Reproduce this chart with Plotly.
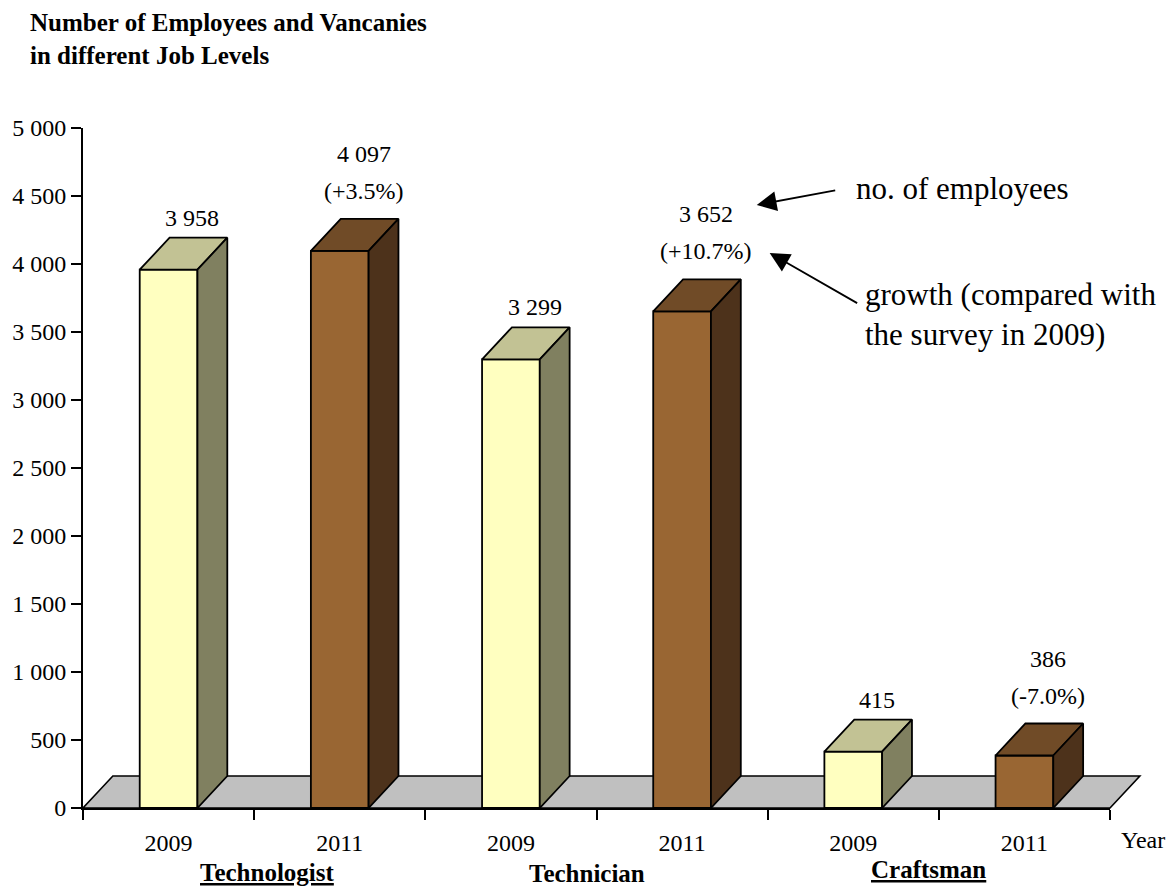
import plotly.graph_objects as go

# ---- data -------------------------------------------------------------
job_levels = ["Technologist", "Technician", "Craftsman"]
survey_years = ["2009", "2011"]
employees_2009 = [3958, 3299, 415]
employees_2011 = [4097, 3652, 386]
growth_pct = [3.5, 10.7, -7.0]
y_tick_values = [0, 500, 1000, 1500, 2000, 2500, 3000, 3500, 4000, 4500, 5000]

# ---- page geometry ----------------------------------------------------
W, H = 1174, 889
MARGIN = dict(l=78, r=64, t=128, b=81)
PLOT_W = W - MARGIN["l"] - MARGIN["r"]
PLOT_H = H - MARGIN["t"] - MARGIN["b"]
X_MAX = len(job_levels) * len(survey_years)
Y_MAX = y_tick_values[-1]
UX = X_MAX / PLOT_W          # data units per pixel (x)
UY = Y_MAX / PLOT_H          # data units per pixel (y)
DEPTH_X = 30 * UX            # oblique depth of the 3-D boxes
DEPTH_Y = 32 * UY
BAR_W = 58 * UX

SERIF = "Liberation Serif"
FACE = {
    "2009": dict(front="#FFFFC0", top="#C2C294", side="#808060"),
    "2011": dict(front="#996633", top="#704B27", side="#4D321B"),
}
EDGE = dict(color="black", width=1.8)


def fmt_thousands(v):
    return f"{v:,}".replace(",", " ")


def polygon(xs, ys, color):
    return go.Scatter(
        x=xs + xs[:1], y=ys + ys[:1], mode="lines", fill="toself",
        fillcolor=color, line=EDGE, hoverinfo="skip", showlegend=False,
    )


fig = go.Figure()
annotations = []

series = {"2009": employees_2009, "2011": employees_2011}
for i, level in enumerate(job_levels):
    for j, year in enumerate(survey_years):
        v = series[year][i]
        xc = i * len(survey_years) + j + 0.5
        x0, x1 = xc - BAR_W / 2, xc + BAR_W / 2
        c = FACE[year]
        # front face
        fig.add_trace(polygon([x0, x1, x1, x0], [0, 0, v, v], c["front"]))
        # top face
        fig.add_trace(polygon([x0, x1, x1 + DEPTH_X, x0 + DEPTH_X],
                              [v, v, v + DEPTH_Y, v + DEPTH_Y], c["top"]))
        # side face
        fig.add_trace(polygon([x1, x1 + DEPTH_X, x1 + DEPTH_X, x1],
                              [0, DEPTH_Y, v + DEPTH_Y, v], c["side"]))

        lx = xc + 24 * UX
        ly = v + DEPTH_Y
        if year == "2009":
            annotations.append(dict(x=lx, y=ly, xref="x", yref="y",
                                    text=fmt_thousands(v), showarrow=False,
                                    yanchor="middle", yshift=20,
                                    font=dict(family=SERIF, size=24, color="black")))
        else:
            annotations.append(dict(x=lx, y=ly, xref="x", yref="y",
                                    text=fmt_thousands(v), showarrow=False,
                                    yanchor="middle", yshift=65,
                                    font=dict(family=SERIF, size=24, color="black")))
            annotations.append(dict(x=lx, y=ly, xref="x", yref="y",
                                    text=f"({growth_pct[i]:+.1f}%)", showarrow=False,
                                    yanchor="middle", yshift=28,
                                    font=dict(family=SERIF, size=24, color="black")))

# grey floor under the boxes (paper coords so it may overhang the axis end)
fx = DEPTH_X / X_MAX
fy = DEPTH_Y / Y_MAX
floor_path = f"M 0 0 L 1 0 L {1 + fx} {fy} L {fx} {fy} Z"
shapes = [dict(type="path", path=floor_path, xref="paper", yref="paper",
               fillcolor="#C0C0C0", line=dict(color="black", width=1.6),
               layer="below")]


def px_to_paper_x(px):
    return (px - MARGIN["l"]) / PLOT_W


def px_to_paper_y(py):
    return (H - MARGIN["b"] - py) / PLOT_H


# title
annotations.append(dict(
    x=px_to_paper_x(23), y=px_to_paper_y(7), xref="paper", yref="paper",
    xanchor="left", yanchor="top", align="left", showarrow=False,
    text="<b>Number of Employees and Vancanies<br>in different Job Levels</b>",
    font=dict(family=SERIF, size=25, color="black")))

# job level captions
level_style = {"Technologist": (263, 888, True),
               "Technician": (584, 889, False),
               "Craftsman": (928, 885, True)}
for level in job_levels:
    cx, cy, underline = level_style[level]
    txt = f"<b>{level}</b>"
    if underline:
        txt = f"<u>{txt}</u>"
    annotations.append(dict(x=px_to_paper_x(cx), y=px_to_paper_y(cy),
                            xref="paper", yref="paper", showarrow=False,
                            xanchor="center", yanchor="bottom", text=txt,
                            font=dict(family=SERIF, size=25, color="black")))

# axis caption
annotations.append(dict(x=px_to_paper_x(1143), y=px_to_paper_y(840),
                        xref="paper", yref="paper", showarrow=False,
                        xanchor="center", yanchor="middle", text="Year",
                        font=dict(family=SERIF, size=24, color="black")))

# explanatory notes with arrows
annotations.append(dict(x=px_to_paper_x(853), y=px_to_paper_y(188),
                        xref="paper", yref="paper", showarrow=False,
                        xanchor="left", yanchor="middle", align="left",
                        text="no. of employees",
                        font=dict(family=SERIF, size=31, color="black")))
annotations.append(dict(x=px_to_paper_x(862), y=px_to_paper_y(314),
                        xref="paper", yref="paper", showarrow=False,
                        xanchor="left", yanchor="middle", align="left",
                        text="growth (compared with<br>the survey in 2009)",
                        font=dict(family=SERIF, size=31, color="black")))
for (hx, hy), (tx, ty) in [((755, 205), (835, 190)), ((768, 253), (857, 304))]:
    annotations.append(dict(x=px_to_paper_x(hx), y=px_to_paper_y(hy),
                            xref="paper", yref="paper", text="",
                            showarrow=True, arrowhead=2, arrowsize=2.2,
                            arrowwidth=1.8, arrowcolor="black",
                            ax=tx - hx, ay=ty - hy, standoff=0))

category_centers = [k + 0.5 for k in range(X_MAX)]
category_bounds = list(range(X_MAX + 1))

fig.update_layout(
    width=W, height=H, margin=MARGIN,
    paper_bgcolor="white", plot_bgcolor="white",
    showlegend=False,
    shapes=shapes, annotations=annotations,
    xaxis=dict(
        range=[0, X_MAX], showgrid=False, zeroline=False,
        showline=True, linecolor="black", linewidth=1.8,
        tickvals=category_centers,
        ticktext=[y for _ in job_levels for y in survey_years],
        ticks="", ticklabelstandoff=12,
        tickfont=dict(family=SERIF, size=24, color="black"),
        minor=dict(tickvals=category_bounds, ticks="outside", ticklen=10,
                   tickwidth=1.8, tickcolor="black", showgrid=False),
        fixedrange=True,
    ),
    yaxis=dict(
        range=[0, Y_MAX], showgrid=False, zeroline=False,
        showline=True, linecolor="black", linewidth=1.8,
        tickvals=y_tick_values,
        ticktext=[fmt_thousands(v) for v in y_tick_values],
        ticks="outside", ticklen=10, tickwidth=1.8, tickcolor="black",
        tickfont=dict(family=SERIF, size=24, color="black"),
        fixedrange=True,
    ),
)

fig.write_html("out.html")
